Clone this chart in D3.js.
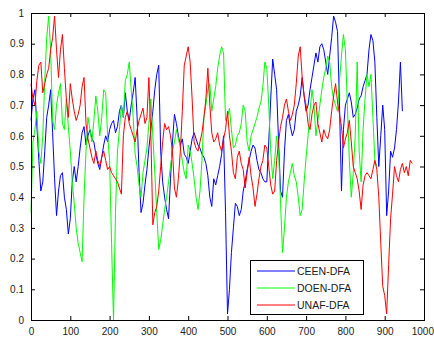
<!DOCTYPE html>
<html>
<head>
<meta charset="utf-8">
<script src="https://cdn.jsdelivr.net/npm/d3@7"></script>
<style>
  body { margin: 0; background: #fff; }
  text { font-family: "Liberation Sans", Arial, sans-serif; }
</style>
</head>
<body>
<div id="chart"></div>
<script>
// sampled every 5 units along x
const step = 5

const ceen = [
  0.65, 0.72, 0.75, 0.63, 0.52, 0.42, 0.45, 0.55, 0.66, 0.70,
  0.75, 0.61, 0.46, 0.34, 0.42, 0.47, 0.48, 0.40, 0.36, 0.28,
  0.33, 0.45, 0.50, 0.45, 0.50, 0.56, 0.61, 0.63, 0.57, 0.60,
  0.62, 0.59, 0.58, 0.54, 0.51, 0.49, 0.53, 0.57, 0.60, 0.58,
  0.62, 0.64, 0.65, 0.61, 0.63, 0.68, 0.70, 0.66, 0.74, 0.68,
  0.65, 0.70, 0.74, 0.79, 0.66, 0.48, 0.35, 0.38, 0.44, 0.49,
  0.56, 0.62, 0.68, 0.75, 0.80, 0.83, 0.55, 0.45, 0.40, 0.36,
  0.33, 0.46, 0.58, 0.67, 0.64, 0.60, 0.57, 0.59, 0.54, 0.53,
  0.51, 0.55, 0.59, 0.61, 0.59, 0.57, 0.56, 0.54, 0.53, 0.51,
  0.47, 0.40, 0.37, 0.46, 0.44, 0.47, 0.50, 0.54, 0.60, 0.35,
  0.02, 0.10, 0.22, 0.30, 0.38, 0.37, 0.34, 0.36, 0.42, 0.45,
  0.49, 0.52, 0.55, 0.57, 0.56, 0.52, 0.49, 0.48, 0.46, 0.45,
  0.45, 0.58, 0.72, 0.85, 0.80, 0.75, 0.58, 0.42, 0.40, 0.55,
  0.65, 0.67, 0.63, 0.60, 0.62, 0.68, 0.70, 0.73, 0.79, 0.73,
  0.68, 0.70, 0.75, 0.79, 0.83, 0.87, 0.84, 0.89, 0.90, 0.88,
  0.84, 0.80, 0.86, 0.92, 0.99, 0.97, 0.94, 0.70, 0.42, 0.62,
  0.70, 0.72, 0.74, 0.71, 0.66, 0.67, 0.69, 0.72, 0.73, 0.76,
  0.78, 0.80, 0.88, 0.93, 0.91, 0.84, 0.66, 0.50, 0.60, 0.70,
  0.62, 0.34, 0.42, 0.55, 0.53, 0.56, 0.62, 0.71, 0.84, 0.68
]

const doen = [
  0.35, 0.58, 0.62, 0.68, 0.55, 0.51, 0.60, 0.78, 0.92, 0.99,
  0.88, 0.65, 0.62, 0.70, 0.74, 0.77, 0.64, 0.62, 0.72, 0.63,
  0.55, 0.45, 0.38, 0.30, 0.25, 0.22, 0.19, 0.40, 0.55, 0.66,
  0.62, 0.58, 0.65, 0.73, 0.68, 0.60, 0.66, 0.75, 0.74, 0.60,
  0.52, 0.25, 0.00, 0.35, 0.55, 0.62, 0.70, 0.66, 0.78, 0.80,
  0.84, 0.75, 0.66, 0.54, 0.50, 0.44, 0.40, 0.48, 0.52, 0.56,
  0.64, 0.72, 0.60, 0.48, 0.35, 0.23, 0.26, 0.31, 0.36, 0.40,
  0.45, 0.50, 0.55, 0.58, 0.62, 0.59, 0.56, 0.52, 0.48, 0.46,
  0.57, 0.55, 0.51, 0.46, 0.40, 0.36, 0.42, 0.52, 0.66, 0.70,
  0.75, 0.77, 0.68, 0.72, 0.76, 0.82, 0.86, 0.89, 0.87, 0.65,
  0.66, 0.69, 0.62, 0.56, 0.57, 0.60, 0.61, 0.64, 0.70, 0.68,
  0.58, 0.55, 0.60, 0.62, 0.64, 0.66, 0.69, 0.71, 0.76, 0.84,
  0.82, 0.70, 0.55, 0.46, 0.52, 0.60, 0.55, 0.38, 0.22, 0.30,
  0.40, 0.45, 0.48, 0.51, 0.47, 0.45, 0.40, 0.34, 0.36, 0.45,
  0.53, 0.60, 0.68, 0.75, 0.70, 0.60, 0.65, 0.70, 0.75, 0.79,
  0.82, 0.86, 0.84, 0.76, 0.72, 0.70, 0.68, 0.78, 0.86, 0.93,
  0.88, 0.70, 0.52, 0.40, 0.48, 0.60, 0.84, 0.55, 0.45, 0.62,
  0.72, 0.80, 0.76, 0.80, 0.66, 0.52, 0.50
]

const unaf = [
  0.77, 0.72, 0.70, 0.78, 0.83, 0.84, 0.74, 0.77, 0.80, 0.82,
  0.88, 0.92, 0.99, 0.88, 0.79, 0.88, 0.93, 0.82, 0.72, 0.66,
  0.77, 0.72, 0.68, 0.65, 0.67, 0.70, 0.76, 0.79, 0.64, 0.59,
  0.56, 0.53, 0.51, 0.55, 0.52, 0.50, 0.53, 0.55, 0.52, 0.49,
  0.50, 0.48, 0.47, 0.46, 0.45, 0.43, 0.41, 0.60, 0.66, 0.68,
  0.64, 0.62, 0.60, 0.58, 0.62, 0.65, 0.67, 0.69, 0.64, 0.66,
  0.79, 0.60, 0.31, 0.35, 0.37, 0.42, 0.50, 0.58, 0.64, 0.62,
  0.63, 0.60, 0.55, 0.43, 0.40, 0.46, 0.55, 0.68, 0.83, 0.86,
  0.89, 0.84, 0.72, 0.58, 0.56, 0.55, 0.58, 0.61, 0.66, 0.72,
  0.82, 0.70, 0.61, 0.58, 0.59, 0.61, 0.57, 0.55, 0.59, 0.62,
  0.68, 0.60, 0.55, 0.48, 0.46, 0.53, 0.55, 0.51, 0.49, 0.43,
  0.48, 0.53, 0.47, 0.43, 0.37, 0.41, 0.46, 0.50, 0.52, 0.57,
  0.56, 0.50, 0.44, 0.41, 0.42, 0.52, 0.58, 0.63, 0.66, 0.70,
  0.72, 0.68, 0.65, 0.67, 0.70, 0.77, 0.86, 0.89, 0.79, 0.73,
  0.70, 0.64, 0.62, 0.67, 0.70, 0.71, 0.64, 0.61, 0.58, 0.62,
  0.60, 0.59, 0.62, 0.68, 0.73, 0.77, 0.71, 0.67, 0.63, 0.56,
  0.59, 0.61, 0.65, 0.58, 0.50, 0.48, 0.46, 0.42, 0.36, 0.44,
  0.47, 0.48, 0.47, 0.46, 0.49, 0.52, 0.49, 0.40, 0.25, 0.11,
  0.08, 0.02, 0.18, 0.33, 0.41, 0.50, 0.47, 0.45, 0.49, 0.51,
  0.48, 0.50, 0.47, 0.52, 0.51
]

const seriesNames = ['CEEN-DFA', 'DOEN-DFA', 'UNAF-DFA']
const seriesColors = ['#0000ff', '#00ff00', '#ff0000']
const xTicks = [0, 100, 200, 300, 400, 500, 600, 700, 800, 900, 1000]
const yTicks = [0, 0.1, 0.2, 0.3, 0.4, 0.5, 0.6, 0.7, 0.8, 0.9, 1]

const width = 434
const height = 338
const plot = { left: 31, right: 424, top: 13, bottom: 320 }

const x = d3.scaleLinear().domain([0, 1000]).range([plot.left, plot.right])
const y = d3.scaleLinear().domain([0, 1]).range([plot.bottom, plot.top])

const svg = d3.select('#chart')
  .append('svg')
  .attr('width', width)
  .attr('height', height)

const line = d3.line()
  .x((d, i) => x(i * step))
  .y(d => y(d))

// draw series, red last so it sits on top
;[ceen, doen, unaf].forEach((values, k) => {
  svg.append('path')
    .datum(values)
    .attr('fill', 'none')
    .attr('stroke', seriesColors[k])
    .attr('stroke-width', 1)
    .attr('stroke-linejoin', 'round')
    .attr('d', line)
})

const tick = 4

// bottom axis, ticks inward
svg.append('g')
  .attr('transform', `translate(0,${plot.bottom})`)
  .call(d3.axisBottom(x).tickValues(xTicks).tickSize(-tick).tickPadding(8).tickFormat(d3.format('d')))
  .call(g => g.select('.domain').remove())
  .call(g => g.selectAll('.tick line').attr('stroke', '#000'))
  .call(g => g.selectAll('.tick text').attr('font-size', 10).attr('fill', '#222'))
  // keep the last label inside the window
  .call(g => g.select('.tick:last-of-type text').attr('text-anchor', 'end').attr('dx', 9.5))

// top mirror ticks
svg.append('g')
  .attr('transform', `translate(0,${plot.top})`)
  .call(d3.axisTop(x).tickValues(xTicks).tickSize(-tick).tickFormat(''))
  .call(g => g.select('.domain').remove())
  .call(g => g.selectAll('.tick line').attr('stroke', '#000'))

// left axis
svg.append('g')
  .attr('transform', `translate(${plot.left},0)`)
  .call(d3.axisLeft(y).tickValues(yTicks).tickSize(-tick).tickPadding(7).tickFormat(d3.format('~g')))
  .call(g => g.select('.domain').remove())
  .call(g => g.selectAll('.tick line').attr('stroke', '#000'))
  .call(g => g.selectAll('.tick text').attr('font-size', 10).attr('fill', '#222'))

// right mirror ticks
svg.append('g')
  .attr('transform', `translate(${plot.right},0)`)
  .call(d3.axisRight(y).tickValues(yTicks).tickSize(-tick).tickFormat(''))
  .call(g => g.select('.domain').remove())
  .call(g => g.selectAll('.tick line').attr('stroke', '#000'))

// axes box
svg.append('rect')
  .attr('x', plot.left + 0.5)
  .attr('y', plot.top + 0.5)
  .attr('width', plot.right - plot.left)
  .attr('height', plot.bottom - plot.top)
  .attr('fill', 'none')
  .attr('stroke', '#000')

// legend
const legend = svg.append('g').attr('transform', 'translate(250,260)')
legend.append('rect')
  .attr('x', 0.5)
  .attr('y', 0.5)
  .attr('width', 113)
  .attr('height', 54)
  .attr('fill', '#fff')
  .attr('stroke', '#000')

seriesNames.forEach((name, i) => {
  const ly = 11 + i * 17
  legend.append('line')
    .attr('x1', 7)
    .attr('x2', 45)
    .attr('y1', ly)
    .attr('y2', ly)
    .attr('stroke', seriesColors[i])
  legend.append('text')
    .attr('x', 47)
    .attr('y', ly)
    .attr('dy', '0.36em')
    .attr('font-size', 10.5)
    .attr('fill', '#222')
    .text(name)
})
</script>
</body>
</html>
